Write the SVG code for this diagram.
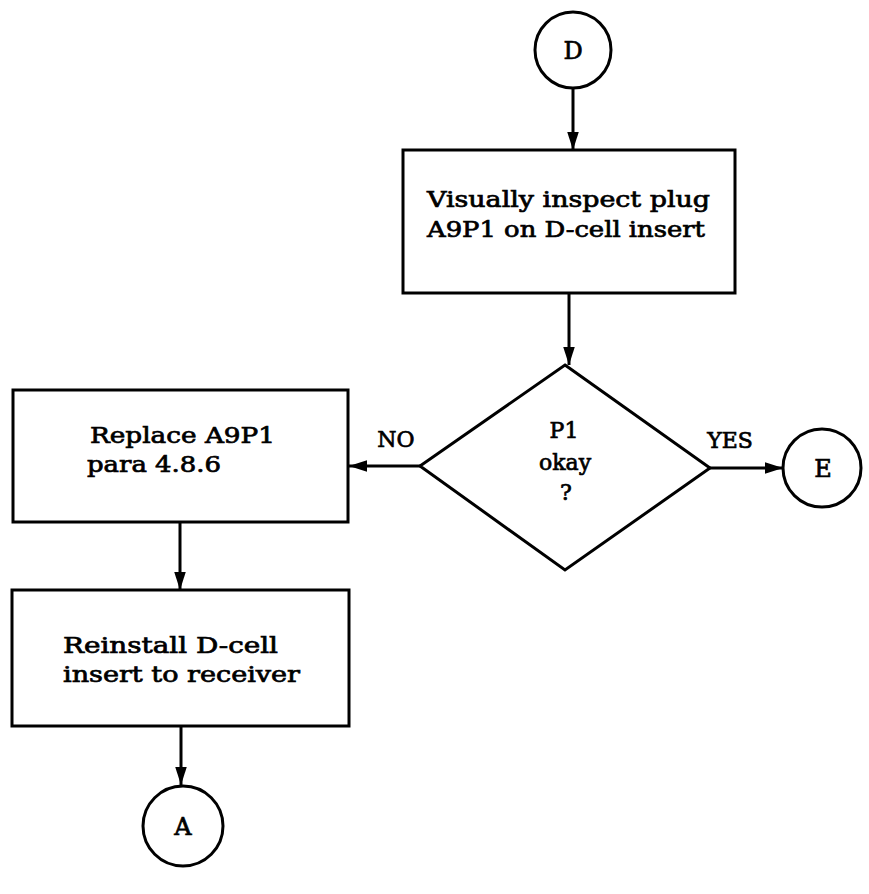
<svg xmlns="http://www.w3.org/2000/svg" width="869" height="894" viewBox="0 0 869 894">
<style>
.s{fill:#fff;stroke:#000;stroke-width:3}
.c{fill:none;stroke:#000;stroke-width:3}
text{font-family:"DejaVu Serif","Liberation Serif",serif;font-size:22px;fill:#000;stroke:#000;stroke-width:0.7}
.m{text-anchor:middle}
.b{font-size:24px}
</style>
<defs>
<marker id="ah" viewBox="0 0 10 10" refX="10" refY="5" markerWidth="6" markerHeight="6" markerUnits="strokeWidth" orient="auto">
<path d="M0,1.8 L10,5 L0,8.2 z" fill="#000"/>
</marker>
</defs>
<rect width="869" height="894" fill="#fff"/>
<g id="connectors">
<line class="c" x1="573" y1="88" x2="573" y2="150" marker-end="url(#ah)"/>
<line class="c" x1="569" y1="293" x2="569" y2="365" marker-end="url(#ah)"/>
<line class="c" x1="420" y1="466" x2="349" y2="466" marker-end="url(#ah)"/>
<line class="c" x1="710" y1="468" x2="783" y2="468" marker-end="url(#ah)"/>
<line class="c" x1="180" y1="522" x2="180" y2="590" marker-end="url(#ah)"/>
<line class="c" x1="181" y1="726" x2="181" y2="785" marker-end="url(#ah)"/>
<text x="396" y="447" class="m">NO</text>
<text x="730" y="448" class="m">YES</text>
</g>
<g id="nodeD">
<circle class="s" cx="573" cy="50" r="38"/>
<text x="573" y="59" class="m b">D</text>
</g>
<g id="inspect">
<rect class="s" x="403" y="150" width="332" height="143"/>
<text x="427" y="207" textLength="283" lengthAdjust="spacingAndGlyphs">Visually inspect plug</text>
<text x="427" y="237" textLength="278" lengthAdjust="spacingAndGlyphs">A9P1 on D-cell insert</text>
</g>
<g id="decision">
<polygon class="s" points="565,365 710,468 565,570 420,466"/>
<text x="564" y="438" class="m">P1</text>
<text x="565" y="470" class="m">okay</text>
<text x="566" y="500" class="m">?</text>
</g>
<g id="nodeE">
<circle class="s" cx="822" cy="468" r="39"/>
<text x="823" y="477" class="m b">E</text>
</g>
<g id="replace">
<rect class="s" x="13" y="390" width="335" height="132"/>
<text x="90" y="443" textLength="185" lengthAdjust="spacingAndGlyphs">Replace A9P1</text>
<text x="87" y="472" textLength="134" lengthAdjust="spacingAndGlyphs">para 4.8.6</text>
</g>
<g id="reinstall">
<rect class="s" x="12" y="590" width="337" height="136"/>
<text x="63" y="653" textLength="215" lengthAdjust="spacingAndGlyphs">Reinstall D-cell</text>
<text x="63" y="682" textLength="237" lengthAdjust="spacingAndGlyphs">insert to receiver</text>
</g>
<g id="nodeA">
<circle class="s" cx="183" cy="826" r="40"/>
<text x="183" y="835" class="m b">A</text>
</g>
</svg>
